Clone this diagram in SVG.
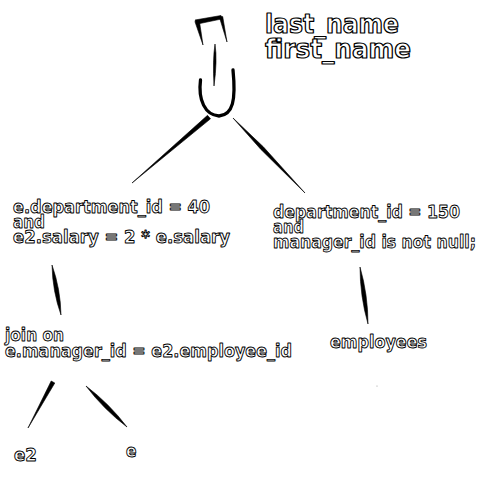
<svg xmlns="http://www.w3.org/2000/svg" width="500" height="500" viewBox="0 0 500 500">
<style>
  text { font-family: "DejaVu Sans Condensed", "DejaVu Sans", "Liberation Sans", sans-serif; font-size: 18px; font-weight: bold; fill: #ffffff; stroke: #000000; stroke-width: 0.9px; stroke-linejoin: round; }
  .title { font-size: 26px; stroke-width: 1.2px; }
  .ink { fill: #000000; stroke: #000000; stroke-width: 0.6; stroke-linejoin: round; }
  .brush { fill: none; stroke: #000000; stroke-linecap: round; stroke-linejoin: round; }
</style>
<rect width="500" height="500" fill="#ffffff"/>

<g id="connectors">
  <path class="ink" d="M 207.5 115.3 L 210.5 118.8 L 132 183 Z"/>
  <path class="ink" d="M 233 118 L 263.3 146.8 L 305 193 L 260.7 149.2 Z"/>
  <path class="ink" d="M 52 265 Q 60.5 289 61 315 Q 52.5 291 52 265 Z"/>
  <path class="ink" d="M 51.2 381 L 54.8 383 L 28 428 Z"/>
  <path class="ink" d="M 86 386 Q 109.3 403.7 127 427 Q 103.7 409.3 86 386 Z"/>
  <path class="ink" d="M 360 267 Q 368 294.9 368 324 Q 360 296.1 360 267 Z"/>
</g>

<g id="node-project">
  <path class="ink" d="M 195 20 L 221 15.5 L 222.5 18.8 L 197.5 24 Z"/>
  <path class="ink" d="M 194.9 21.5 L 199.3 20.5 L 203 45 Z"/>
  <path class="ink" d="M 219.5 17.5 L 222.7 16.5 L 227 42 Z"/>
  <path class="ink" d="M 215 44 Q 217.5 60 214 86 Q 212.5 60 215 44 Z"/>
  <path class="brush" stroke-width="3.3" d="M 200.5 80 C 198 100, 205 115, 219 116 C 233 115, 236 100, 233 70"/>
  <text class="title" x="265" y="33" textLength="134" lengthAdjust="spacingAndGlyphs">last_name</text>
  <text class="title" x="265" y="58" textLength="146" lengthAdjust="spacingAndGlyphs">first_name</text>
</g>

<g id="node-filter-left">
  <text x="13" y="213" textLength="197" lengthAdjust="spacingAndGlyphs">e.department_id = 40</text>
  <text x="13" y="228" textLength="32" lengthAdjust="spacingAndGlyphs">and</text>
  <text x="13" y="243" textLength="217" lengthAdjust="spacingAndGlyphs">e2.salary = 2 * e.salary</text>
</g>

<g id="node-filter-right">
  <text x="273" y="218" textLength="187" lengthAdjust="spacingAndGlyphs">department_id = 150</text>
  <text x="273" y="233" textLength="31" lengthAdjust="spacingAndGlyphs">and</text>
  <text x="273" y="248" textLength="203" lengthAdjust="spacingAndGlyphs">manager_id is not null;</text>
</g>

<g id="node-join">
  <text x="5" y="341" textLength="59" lengthAdjust="spacingAndGlyphs">join on</text>
  <text x="5" y="357" textLength="287" lengthAdjust="spacingAndGlyphs">e.manager_id = e2.employee_id</text>
</g>

<g id="node-employees">
  <text x="330" y="348" textLength="97" lengthAdjust="spacingAndGlyphs">employees</text>
</g>

<g id="node-e2">
  <text x="14" y="461" textLength="23" lengthAdjust="spacingAndGlyphs">e2</text>
</g>

<g id="node-e">
  <text x="126" y="457" textLength="10.5" lengthAdjust="spacingAndGlyphs">e</text>
</g>

<circle cx="377" cy="386" r="0.6" fill="#999999"/>
</svg>
